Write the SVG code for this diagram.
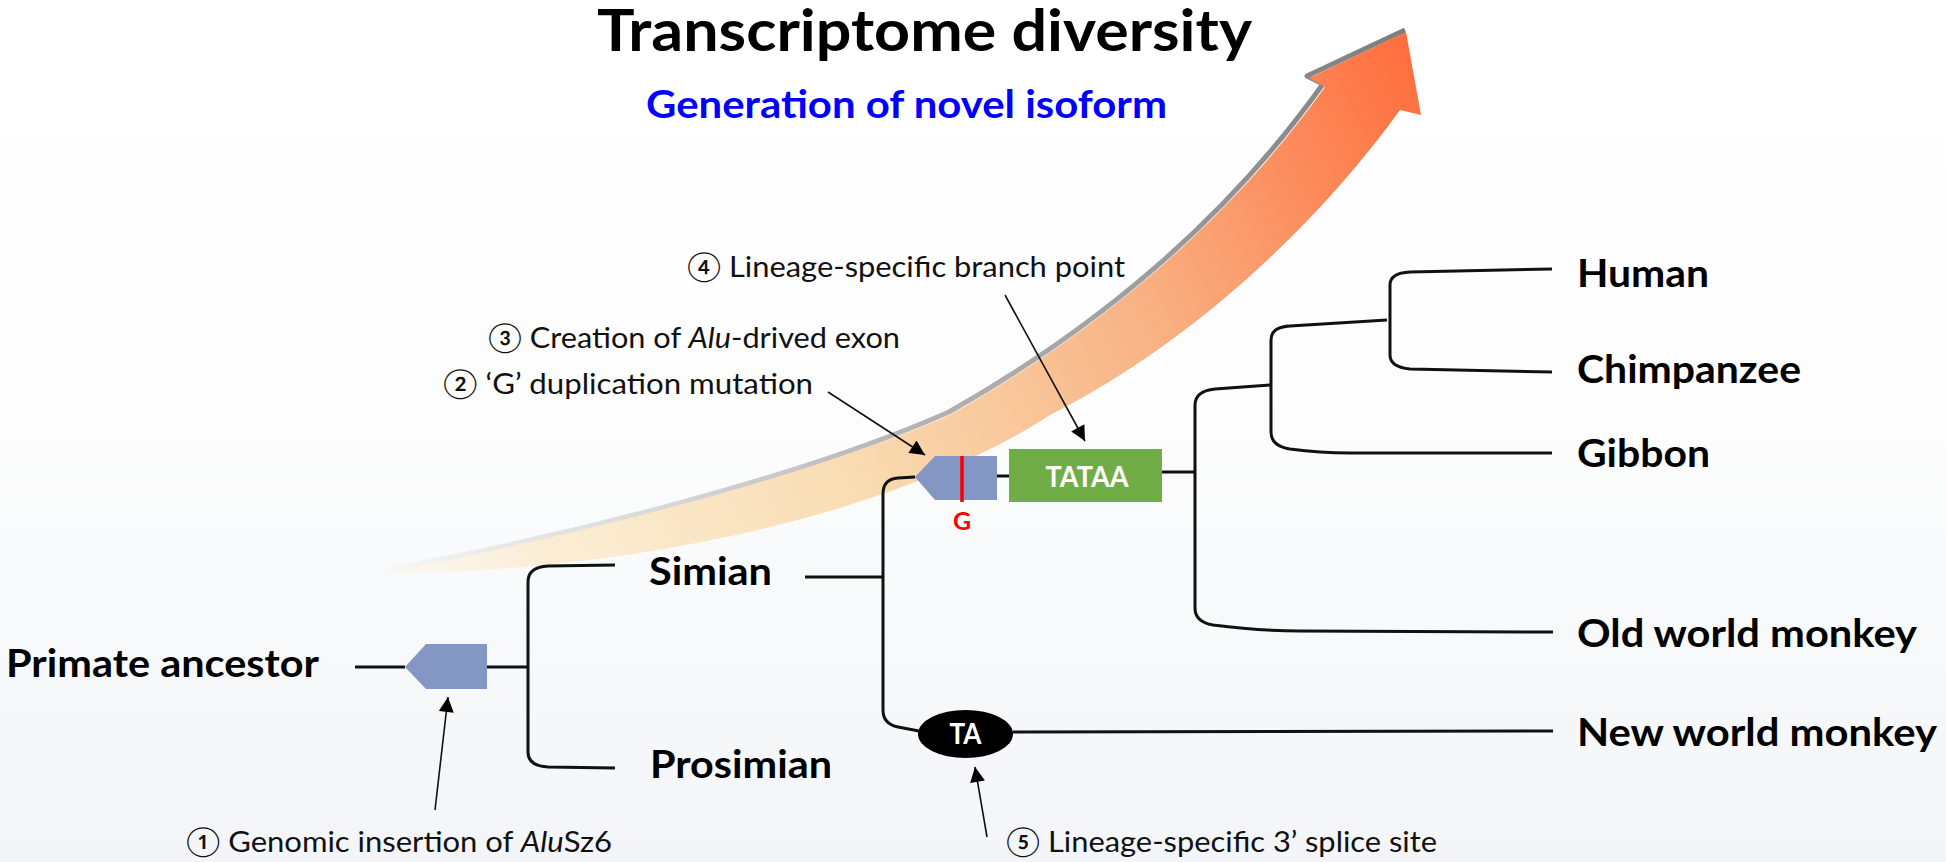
<svg xmlns="http://www.w3.org/2000/svg" width="1946" height="862" viewBox="0 0 1946 862">
  <defs>
    <linearGradient id="bg" x1="0" y1="0" x2="0" y2="1">
      <stop offset="0" stop-color="#ffffff"/>
      <stop offset="0.45" stop-color="#fdfdfd"/>
      <stop offset="1" stop-color="#f3f5f8"/>
    </linearGradient>
    <linearGradient id="arrowFill" gradientUnits="userSpaceOnUse" x1="380" y1="573" x2="1406" y2="40">
      <stop offset="0" stop-color="#fbf1dc" stop-opacity="0.2"/>
      <stop offset="0.12" stop-color="#fbecd0" stop-opacity="0.85"/>
      <stop offset="0.4" stop-color="#f9dcb2"/>
      <stop offset="0.68" stop-color="#f8b486"/>
      <stop offset="1" stop-color="#ff6e3e"/>
    </linearGradient>
    <linearGradient id="shadowStroke" gradientUnits="userSpaceOnUse" x1="380" y1="573" x2="1406" y2="40">
      <stop offset="0" stop-color="#b0b0b0" stop-opacity="0"/>
      <stop offset="0.18" stop-color="#c4c4c4" stop-opacity="0.5"/>
      <stop offset="0.45" stop-color="#a8a8a8" stop-opacity="0.85"/>
      <stop offset="1" stop-color="#7e7e7e"/>
    </linearGradient>
    <marker id="ah" viewBox="0 0 10 10" refX="10" refY="5" markerWidth="18" markerHeight="15" markerUnits="userSpaceOnUse" orient="auto">
      <path d="M0,0 L10,5 L0,10 z" fill="#000"/>
    </marker>
    <style>
      .bold { font-family: Lato, "Noto Sans CJK KR", sans-serif; font-weight: bold; fill: #000; }
      .note { font-family: Lato, "Noto Sans CJK KR", sans-serif; font-weight: normal; fill: #111; font-size: 29px; }
      .label { font-size: 39px; }
      .branch { fill: none; stroke: #111; stroke-width: 3; stroke-linejoin: round; stroke-linecap: butt; }
      .pointer { fill: none; stroke: #111; stroke-width: 1.6; marker-end: url(#ah); }
      .alu { fill: #8497c4; }
    </style>
  </defs>

  <rect id="background" x="0" y="0" width="1946" height="862" fill="url(#bg)"/>

  <g id="big-arrow">
    <path d="M380,571 C560,538 800,478 949,412 C1099,327 1228,217 1323,84 L1307,76 L1405,30" fill="none" stroke="url(#shadowStroke)" stroke-width="5" stroke-linejoin="round"/>
    <path d="M375,573 C560,540 800,480 950,415 C1100,330 1230,220 1325,87 L1309,78 L1406,32 L1421,115 L1400,110 C1310,235 1180,350 1050,415 C920,500 680,570 380,574 Z" fill="url(#arrowFill)"/>
  </g>

  <g id="title">
    <text class="bold" x="597" y="51" font-size="58" textLength="655" lengthAdjust="spacingAndGlyphs">Transcriptome diversity</text>
  </g>
  <g id="subtitle">
    <text class="bold" x="646" y="118" font-size="39" style="fill:#0000ff" textLength="521" lengthAdjust="spacingAndGlyphs">Generation of novel isoform</text>
  </g>

  <g id="connectors">
    <path class="branch" d="M355,667 L405,667"/>
    <path class="branch" d="M487,667 L528,667"/>
    <path class="branch" d="M615,565 L548,566 Q528,567 528,582 L528,752 Q528,766 548,767 L615,768"/>
    <path class="branch" d="M805,577 L883,577"/>
    <path class="branch" d="M915,477 L898,478 Q883,479 883,494 L883,710 Q883,724 898,727 L919,731"/>
    <path class="branch" d="M997,476 L1009,476"/>
    <path class="branch" d="M1162,472 L1195,472"/>
    <path class="branch" d="M1013,732 L1553,731"/>
    <path class="branch" d="M1270,385 L1215,389 Q1195,391 1195,405 L1195,608 Q1195,622 1213,625 Q1260,631 1300,631 L1553,632"/>
    <path class="branch" d="M1387,320 L1290,326 Q1271,327 1271,340 L1271,432 Q1271,446 1290,449 Q1320,453 1350,453 L1552,453"/>
    <path class="branch" d="M1552,269 L1410,272 Q1390,273 1390,285 L1390,355 Q1390,367 1410,369 L1552,372"/>
    <path class="pointer" d="M435,810 L448,697"/>
    <path class="pointer" d="M828,392 L925,455"/>
    <path class="pointer" d="M1005,295 L1085,441"/>
    <path class="pointer" d="M987,837 L975,767"/>
  </g>

  <g id="node-primate-ancestor">
    <text class="bold label" x="6" y="677" textLength="313" lengthAdjust="spacingAndGlyphs">Primate ancestor</text>
  </g>
  <g id="node-alu-insertion">
    <polygon class="alu" points="405,667 426,644 487,644 487,689 426,689"/>
  </g>
  <g id="node-simian">
    <text class="bold label" x="649" y="585" textLength="123" lengthAdjust="spacingAndGlyphs">Simian</text>
  </g>
  <g id="node-prosimian">
    <text class="bold label" x="650" y="778" textLength="182" lengthAdjust="spacingAndGlyphs">Prosimian</text>
  </g>
  <g id="node-alu-exon">
    <polygon class="alu" points="915,477 935,456 997,456 997,500 935,500"/>
    <line x1="962" y1="456" x2="962" y2="502" stroke="#ff0000" stroke-width="3.5"/>
    <text class="bold" x="962" y="530" font-size="25" text-anchor="middle" style="fill:#ff0000">G</text>
  </g>
  <g id="node-tataa">
    <rect x="1009" y="449" width="153" height="53" fill="#70ad47"/>
    <text class="bold" x="1087" y="487" font-size="29" text-anchor="middle" style="fill:#ffffff" textLength="83" lengthAdjust="spacingAndGlyphs">TATAA</text>
  </g>
  <g id="node-ta">
    <ellipse cx="965.5" cy="734" rx="47.5" ry="24" fill="#000"/>
    <text class="bold" x="965.5" y="744" font-size="29" text-anchor="middle" style="fill:#ffffff" textLength="32" lengthAdjust="spacingAndGlyphs">TA</text>
  </g>
  <g id="node-human">
    <text class="bold label" x="1577" y="287" textLength="132" lengthAdjust="spacingAndGlyphs">Human</text>
  </g>
  <g id="node-chimpanzee">
    <text class="bold label" x="1577" y="383" textLength="224" lengthAdjust="spacingAndGlyphs">Chimpanzee</text>
  </g>
  <g id="node-gibbon">
    <text class="bold label" x="1577" y="467" textLength="133" lengthAdjust="spacingAndGlyphs">Gibbon</text>
  </g>
  <g id="node-old-world-monkey">
    <text class="bold label" x="1577" y="647" textLength="340" lengthAdjust="spacingAndGlyphs">Old world monkey</text>
  </g>
  <g id="node-new-world-monkey">
    <text class="bold label" x="1577" y="746" textLength="360" lengthAdjust="spacingAndGlyphs">New world monkey</text>
  </g>

  <g id="annotations">
    <text class="note" x="687" y="277" textLength="438" lengthAdjust="spacingAndGlyphs">④ Lineage-specific branch point</text>
    <text class="note" x="488" y="348" textLength="412" lengthAdjust="spacingAndGlyphs">③ Creation of <tspan font-style="italic">Alu</tspan>-drived exon</text>
    <text class="note" x="443" y="394" textLength="370" lengthAdjust="spacingAndGlyphs">② ‘G’ duplication mutation</text>
    <text class="note" x="186" y="852" textLength="426" lengthAdjust="spacingAndGlyphs">① Genomic insertion of <tspan font-style="italic">Alu</tspan>Sz6</text>
    <text class="note" x="1006" y="852" textLength="431" lengthAdjust="spacingAndGlyphs">⑤ Lineage-specific 3’ splice site</text>
  </g>
</svg>
